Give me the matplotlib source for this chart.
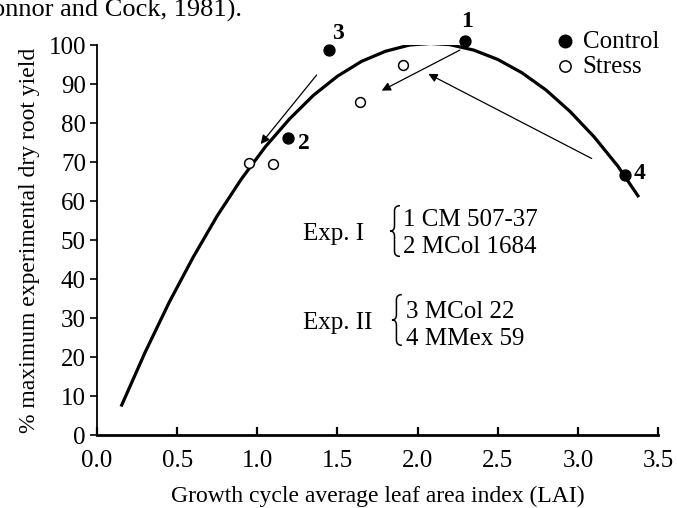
import matplotlib
matplotlib.use("Agg")
import matplotlib.pyplot as plt
from matplotlib.path import Path
from matplotlib.patches import PathPatch

plt.rcParams['font.family'] = ['Liberation Serif', 'DejaVu Serif']

# Fitted curve
curve_x = [0.15, 0.30, 0.45, 0.60, 0.75, 0.90, 1.05, 1.20, 1.35, 1.50, 1.65, 1.80,
           1.95, 2.08, 2.20, 2.35, 2.50, 2.65, 2.80, 2.95, 3.10, 3.25, 3.38]
curve_y = [7.3, 21.2, 34.0, 45.6, 56.2, 65.6, 73.9, 81.0, 87.1, 92.0, 95.8, 98.4,
           100.0, 100.4, 100.1, 98.7, 96.3, 92.9, 88.5, 83.0, 76.5, 68.9, 61.0]

# Control points (filled) with labels
control_x = [2.296, 1.193, 1.449, 3.294]
control_y = [101.1, 76.1, 98.7, 66.7]
control_labels = ['1', '2', '3', '4']

# Stress points (open)
stress_x = [0.948, 1.10, 1.641, 1.907]
stress_y = [69.7, 69.5, 85.5, 94.9]

xticks = [0.0, 0.5, 1.0, 1.5, 2.0, 2.5, 3.0, 3.5]
yticks = [0, 10, 20, 30, 40, 50, 60, 70, 80, 90, 100]

fig = plt.figure(figsize=(6.77, 5.08), dpi=100)
ax = fig.add_axes([0.1433, 0.1437, 0.8287, 0.7677])

ax.plot(curve_x, curve_y, color='black', lw=2.3, solid_capstyle='butt', zorder=2)
ax.scatter(control_x, control_y, s=62, color='black', zorder=4, clip_on=False,
           label='Control')
ax.scatter(stress_x, stress_y, s=50, facecolor='white', edgecolor='black',
           linewidths=1.1, zorder=4, clip_on=False, label='Stress')

label_pos = {'1': (2.306, 105.9), '2': (1.291, 74.8), '3': (1.506, 103.0), '4': (3.387, 67.1)}
for lab in control_labels:
    lx, ly = label_pos[lab]
    ax.text(lx, ly, lab, fontsize=17, fontweight='bold', ha='center', va='center',
            clip_on=False)

# Arrows
arrows = [((2.264, 98.7), (1.776, 88.3)),
          ((1.37, 92.3), (1.021, 74.6)),
          ((3.086, 70.9), (2.067, 92.6))]
for (x0, y0), (x1, y1) in arrows:
    ax.annotate('', xy=(x1, y1), xytext=(x0, y0),
                arrowprops=dict(arrowstyle='-|>', color='black', lw=0.9,
                                mutation_scale=13, shrinkA=0, shrinkB=0))


def brace(x0, y0, w, h):
    verts = [(x0 + w, y0 + h),
             (x0 + w * 0.45, y0 + h), (x0 + w * 0.45, y0 + h * 0.8),
             (x0 + w * 0.45, y0 + h * 0.2),
             (x0 + w * 0.45, y0), (x0, y0),
             (x0 + w * 0.45, y0), (x0 + w * 0.45, y0 - h * 0.2),
             (x0 + w * 0.45, y0 - h * 0.8),
             (x0 + w * 0.45, y0 - h), (x0 + w, y0 - h)]
    codes = [Path.MOVETO, Path.CURVE3, Path.CURVE3, Path.LINETO,
             Path.CURVE3, Path.CURVE3, Path.CURVE3, Path.CURVE3,
             Path.LINETO, Path.CURVE3, Path.CURVE3]
    ax.add_patch(PathPatch(Path(verts, codes), fill=False, lw=1.1, color='black'))


# Experiment annotation
fs = 18
ax.text(1.285, 51.5, 'Exp. I', fontsize=fs, ha='left', va='center')
brace(1.828, 52.3, 0.062, 6.5)
ax.text(1.909, 55.1, '1 CM 507-37', fontsize=fs, ha='left', va='center')
ax.text(1.909, 48.2, '2 MCol 1684', fontsize=fs, ha='left', va='center')

ax.text(1.285, 28.7, 'Exp. II', fontsize=fs, ha='left', va='center')
brace(1.84, 29.5, 0.062, 6.5)
ax.text(1.925, 31.5, '3 MCol 22', fontsize=fs, ha='left', va='center')
ax.text(1.925, 24.6, '4 MMex 59', fontsize=fs, ha='left', va='center')

ax.legend(loc='upper left', bbox_to_anchor=(555 / 677, 1 - 30 / 508),
          bbox_transform=fig.transFigure, frameon=False,
          fontsize=fs, handletextpad=0.3, handlelength=0.8, labelspacing=0.12,
          borderaxespad=0, borderpad=0, scatterpoints=1, markerscale=1.15)

ax.set_xlim(0, 3.5)
ax.set_ylim(0, 100)
ax.set_xticks(xticks)
ax.set_xticklabels([f'{t:.1f}' for t in xticks])
ax.set_yticks(yticks)
ax.tick_params(axis='x', direction='in', length=6, width=1.6, labelsize=fs, pad=11)
ax.tick_params(axis='y', direction='out', length=5, width=1.2, labelsize=fs, pad=3)
for s in ['top', 'right']:
    ax.spines[s].set_visible(False)
ax.spines['left'].set_linewidth(1.3)
ax.spines['bottom'].set_linewidth(2.0)

ax.set_xlabel('Growth cycle average leaf area index (LAI)', fontsize=17, labelpad=10)
ax.set_ylabel('% maximum experimental dry root yield', fontsize=17, labelpad=6)

fig.text(-0.012, 0.967, 'onnor and Cock, 1981).', fontsize=19, ha='left', va='baseline')

fig.savefig('out.png', dpi=100)
